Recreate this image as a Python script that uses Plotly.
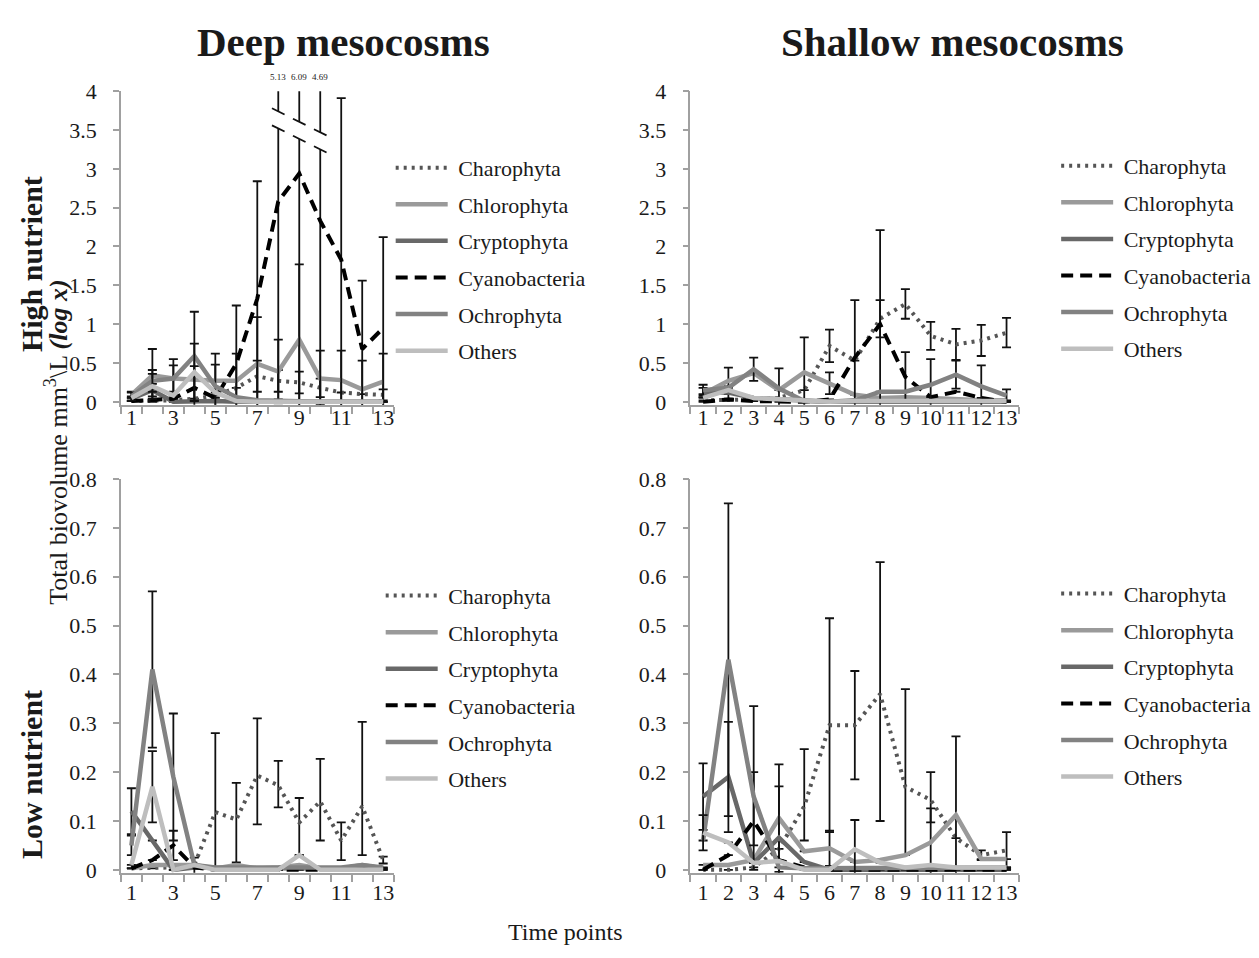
import plotly.graph_objects as go

W, H = 1259, 958
FONT = "Liberation Serif"
TXT = "#1a1a1a"
AXC = "#a0a0a0"

# ---------------- data ----------------
TIME = list(range(1, 14))
GROUPS = ["Charophyta", "Chlorophyta", "Cryptophyta", "Cyanobacteria", "Ochrophyta", "Others"]
ODD_TICKS = [1, 3, 5, 7, 9, 11, 13]
ALL_TICKS = TIME

# Deep mesocosms, high nutrient
deep_high = {
    "Charophyta":    [0.01, 0.01, 0.02, 0.04, 0.08, 0.18, 0.33, 0.27, 0.25, 0.18, 0.12, 0.10, 0.09],
    "Chlorophyta":   [0.09, 0.34, 0.30, 0.28, 0.27, 0.27, 0.49, 0.39, 0.80, 0.30, 0.28, 0.16, 0.26],
    "Cryptophyta":   [0.04, 0.15, 0.00, 0.01, 0.01, 0.00, 0.00, 0.00, 0.00, 0.00, 0.00, 0.00, 0.00],
    "Cyanobacteria": [0.01, 0.02, 0.04, 0.18, 0.05, 0.49, 1.33, 2.58, 2.94, 2.33, 1.83, 0.68, 0.95],
    "Ochrophyta":    [0.07, 0.27, 0.30, 0.59, 0.20, 0.06, 0.02, 0.01, 0.00, 0.00, 0.00, 0.00, 0.00],
    "Others":        [0.05, 0.20, 0.08, 0.38, 0.12, 0.01, 0.00, 0.00, 0.00, 0.00, 0.00, 0.00, 0.00],
}
deep_high_err = {
    "Charophyta":    [None, None, None, None, None, None, 0.20, 0.14, 0.14, 0.12, None, None, 0.07],
    "Chlorophyta":   [0.04, 0.34, 0.25, None, 0.35, 0.35, 0.60, 0.41, 0.97, 0.36, 0.38, 0.37, 0.36],
    "Cryptophyta":   [0.03, 0.08, None, None, None, None, None, None, None, None, None, None, None],
    "Cyanobacteria": [None, None, None, 0.28, None, 0.75, 1.51, 2.55, 3.15, 2.36, 2.08, 0.88, 1.17],
    "Ochrophyta":    [0.05, 0.14, 0.17, 0.57, 0.28, None, None, None, None, None, None, None, None],
    "Others":        [None, 0.16, None, 0.37, None, None, None, None, None, None, None, None, None],
}
deep_high_err_down = {}

# Shallow mesocosms, high nutrient
shallow_high = {
    "Charophyta":    [0.02, 0.02, 0.03, 0.05, 0.15, 0.72, 0.53, 1.07, 1.26, 0.85, 0.74, 0.79, 0.89],
    "Chlorophyta":   [0.10, 0.27, 0.37, 0.15, 0.38, 0.24, 0.09, 0.05, 0.06, 0.05, 0.03, 0.02, 0.02],
    "Cryptophyta":   [0.12, 0.12, 0.05, 0.03, 0.01, 0.00, 0.00, 0.00, 0.00, 0.00, 0.00, 0.00, 0.00],
    "Cyanobacteria": [0.00, 0.03, 0.01, 0.00, 0.00, 0.03, 0.57, 1.00, 0.32, 0.06, 0.13, 0.05, 0.00],
    "Ochrophyta":    [0.15, 0.18, 0.42, 0.17, 0.01, 0.00, 0.02, 0.13, 0.13, 0.22, 0.35, 0.20, 0.08],
    "Others":        [0.05, 0.15, 0.05, 0.03, 0.01, 0.00, 0.01, 0.01, 0.01, 0.01, 0.01, 0.01, 0.01],
}
shallow_high_err = {
    "Charophyta":    [None, None, None, None, None, 0.21, None, 0.24, 0.19, 0.18, 0.20, 0.20, 0.19],
    "Chlorophyta":   [None, 0.17, None, None, 0.45, 0.14, None, None, None, None, None, None, None],
    "Cryptophyta":   [0.06, 0.08, None, None, None, None, None, None, None, None, None, None, None],
    "Cyanobacteria": [None, None, None, None, None, None, 0.74, 1.21, 0.32, None, None, None, None],
    "Ochrophyta":    [0.07, None, 0.15, 0.26, None, None, None, None, None, 0.33, 0.18, 0.27, 0.08],
    "Others":        [None, None, None, None, None, None, None, None, None, None, None, None, None],
}
shallow_high_err_down = {}

# Deep mesocosms, low nutrient
deep_low = {
    "Charophyta":    [0.003, 0.003, 0.005, 0.010, 0.118, 0.103, 0.193, 0.173, 0.097, 0.140, 0.060, 0.130, 0.020],
    "Chlorophyta":   [0.003, 0.010, 0.010, 0.010, 0.003, 0.010, 0.003, 0.005, 0.010, 0.003, 0.003, 0.010, 0.003],
    "Cryptophyta":   [0.120, 0.060, 0.000, 0.005, 0.003, 0.003, 0.003, 0.003, 0.003, 0.003, 0.003, 0.003, 0.003],
    "Cyanobacteria": [0.003, 0.020, 0.050, 0.005, 0.000, 0.000, 0.000, 0.000, 0.000, 0.000, 0.000, 0.000, 0.000],
    "Ochrophyta":    [0.050, 0.410, 0.190, 0.010, 0.005, 0.005, 0.005, 0.005, 0.005, 0.005, 0.005, 0.010, 0.005],
    "Others":        [0.010, 0.170, 0.000, 0.010, 0.000, 0.000, 0.000, 0.000, 0.030, 0.000, 0.000, 0.000, 0.000],
}
deep_low_err = {
    "Charophyta":    [None, None, None, None, 0.162, 0.075, 0.117, 0.050, 0.050, 0.087, 0.037, 0.173, 0.007],
    "Chlorophyta":   [None] * 13,
    "Cryptophyta":   [0.047, None, None, None, None, None, None, None, None, None, None, None, None],
    "Cyanobacteria": [None, None, 0.030, 0.020, None, None, None, None, None, None, None, None, None],
    "Ochrophyta":    [0.020, 0.160, 0.130, None, None, None, None, None, None, None, None, None, None],
    "Others":        [None, 0.073, None, None, None, None, None, None, None, None, None, None, None],
}
deep_low_err_down = {
    "Charophyta":    [None, None, None, None, 0.118, 0.088, 0.100, 0.045, 0.067, 0.080, 0.040, 0.100, 0.007],
}

# Shallow mesocosms, low nutrient
shallow_low = {
    "Charophyta":    [0.000, 0.000, 0.005, 0.043, 0.130, 0.296, 0.296, 0.360, 0.170, 0.143, 0.065, 0.030, 0.040],
    "Chlorophyta":   [0.010, 0.010, 0.020, 0.106, 0.038, 0.044, 0.016, 0.020, 0.030, 0.056, 0.112, 0.022, 0.022],
    "Cryptophyta":   [0.150, 0.190, 0.014, 0.066, 0.016, 0.000, 0.000, 0.000, 0.000, 0.000, 0.000, 0.000, 0.000],
    "Cyanobacteria": [0.000, 0.030, 0.100, 0.020, 0.005, 0.000, 0.000, 0.000, 0.000, 0.000, 0.000, 0.000, 0.000],
    "Ochrophyta":    [0.060, 0.430, 0.150, 0.005, 0.003, 0.003, 0.003, 0.005, 0.005, 0.005, 0.005, 0.005, 0.005],
    "Others":        [0.076, 0.056, 0.014, 0.018, 0.000, 0.000, 0.042, 0.015, 0.005, 0.010, 0.005, 0.005, 0.005],
}
shallow_low_err = {
    "Charophyta":    [None, None, None, None, 0.117, 0.219, 0.111, 0.270, 0.200, 0.057, None, 0.010, 0.037],
    "Chlorophyta":   [None, None, None, 0.110, None, 0.036, None, None, None, 0.070, 0.161, None, None],
    "Cryptophyta":   [0.068, 0.113, None, 0.105, None, None, None, None, None, None, None, None, None],
    "Cyanobacteria": [None, None, 0.100, None, None, None, None, None, None, None, None, None, None],
    "Ochrophyta":    [None, 0.320, 0.185, None, None, None, None, None, None, None, None, None, None],
    "Others":        [0.036, None, None, None, None, None, 0.060, None, None, None, None, None, None],
}
shallow_low_err_down = {
    "Charophyta":    [None, None, None, None, 0.070, 0.219, 0.111, 0.260, 0.140, 0.046, None, 0.010, 0.037],
    "Ochrophyta":    [None, 0.320, 0.100, None, None, None, None, None, None, None, None, None, None],
}

# ---------------- styles ----------------
STYLE = {
    "Charophyta":    dict(color="#555555", width=4, dash="3px,5px"),
    "Chlorophyta":   dict(color="#9a9a9a", width=4.5, dash="solid"),
    "Cryptophyta":   dict(color="#686868", width=4.5, dash="solid"),
    "Cyanobacteria": dict(color="#000000", width=4, dash="12px,7px"),
    "Ochrophyta":    dict(color="#828282", width=4.5, dash="solid"),
    "Others":        dict(color="#bebebe", width=4.5, dash="solid"),
}

PANELS = [
    dict(key="", vals=deep_high, err=deep_high_err, errdn=deep_high_err_down, ymax=4.0, dtick=0.5,
         xt=ODD_TICKS, xpx=(121, 394), zero_px=399, top_px=81, leg=(391, 138), legend="legend",
         xstand=-8),
    dict(key="2", vals=shallow_high, err=shallow_high_err, errdn=shallow_high_err_down, ymax=4.0, dtick=0.5,
         xt=ALL_TICKS, xpx=(691, 1020), zero_px=399, top_px=81, leg=(1057, 136), legend="legend2",
         xstand=-8),
    dict(key="3", vals=deep_low, err=deep_low_err, errdn=deep_low_err_down, ymax=0.8, dtick=0.1,
         xt=ODD_TICKS, xpx=(121, 394), zero_px=878, top_px=478, leg=(381, 576), legend="legend3",
         xstand=-1),
    dict(key="4", vals=shallow_low, err=shallow_low_err, errdn=shallow_low_err_down, ymax=0.8, dtick=0.1,
         xt=ALL_TICKS, xpx=(691, 1020), zero_px=878, top_px=478, leg=(1057, 574), legend="legend4",
         xstand=-1),
]

fig = go.Figure()
layout = {}
annotations = []
shapes = []

for p in PANELS:
    k = p["key"]
    ppu = (p["zero_px"] - p["top_px"]) / p["ymax"]
    lo = -3.0 / ppu
    cap_top = p["ymax"] + 6.0 / ppu
    over = []
    for g in GROUPS:
        v = p["vals"][g]
        up_raw = p["err"].get(g, [None] * 13)
        dn_raw = p["errdn"].get(g, up_raw)
        up, dn = [], []
        for i, (val, e, d) in enumerate(zip(v, up_raw, dn_raw)):
            if e is None:
                up.append(None)
                dn.append(None)
                continue
            if val + e > p["ymax"]:
                over.append((TIME[i], val + e))
                up.append(cap_top - val)
            else:
                up.append(e)
            dn.append(d if d is not None else e)
        st = STYLE[g]
        fig.add_trace(go.Scatter(
            x=TIME, y=v, mode="lines", name="\u00a0" + g,
            line=dict(color=st["color"], width=st["width"], dash=st["dash"]),
            error_y=dict(type="data", array=up, arrayminus=dn, symmetric=False,
                         color="#111111", thickness=1.8, width=4.5),
            xaxis="x" + k, yaxis="y" + k, cliponaxis=False,
            legend=p["legend"], legendgroup=p["legend"] + g, showlegend=True,
            hoverinfo="skip",
        ))
    # broken error bars with their true values
    for j, (t, tot) in enumerate(over):
        annotations.append(dict(x=t, y=1, xref="x" + k, yref="y" + k + " domain", text=f"{tot:.2f}",
                                showarrow=False, xanchor="center", yanchor="bottom", yshift=7,
                                font=dict(family=FONT, size=9, color=TXT)))
        yc = 3.63 - 0.135 * j
        gap = 0.11
        shapes.append(dict(type="line", xref="x" + k, yref="y" + k, x0=t, x1=t, y0=yc - gap, y1=yc + gap,
                           line=dict(color="white", width=5)))
        for yy in (yc - gap, yc + gap):
            shapes.append(dict(type="line", xref="x" + k, yref="y" + k, x0=t - 0.3, x1=t + 0.3,
                               y0=yy + 0.04, y1=yy - 0.04, line=dict(color="#111111", width=1.8)))

    x0, x1 = p["xpx"]
    layout["xaxis" + k] = dict(
        domain=[x0 / W, x1 / W], range=[0.5, 13.5], anchor="y" + k,
        tickvals=p["xt"], ticktext=[str(t) for t in p["xt"]], ticks="",
        showline=True, linecolor=AXC, linewidth=1.5, showgrid=False, zeroline=False,
        tickfont=dict(family=FONT, size=22, color=TXT), ticklabelstandoff=p["xstand"],
        minor=dict(tick0=0.5, dtick=1, ticks="outside", ticklen=7, tickwidth=1.5, tickcolor=AXC,
                   showgrid=False),
    )
    layout["yaxis" + k] = dict(
        domain=[1 - (p["zero_px"] + 3) / H, 1 - p["top_px"] / H], range=[lo, p["ymax"]],
        anchor="x" + k, tick0=0, dtick=p["dtick"], ticks="outside", ticklen=6, tickwidth=1.5,
        tickcolor=AXC, showline=True, linecolor=AXC, linewidth=1.5, showgrid=False,
        zeroline=False, tickfont=dict(family=FONT, size=22, color=TXT), ticklabelstandoff=12,
    )
    lx, ly = p["leg"]
    layout[p["legend"]] = dict(
        x=lx / W, y=1 - ly / H, xanchor="left", yanchor="top", bgcolor="rgba(0,0,0,0)",
        font=dict(family=FONT, size=22, color=TXT), tracegroupgap=5, itemwidth=52,
    )

def paper_text(text, xpx, ypx, size, angle=0):
    return dict(text=text, x=xpx / W, y=1 - ypx / H, xref="paper", yref="paper",
                xanchor="center", yanchor="middle", showarrow=False, textangle=angle,
                font=dict(family=FONT, size=size, color=TXT))

annotations += [
    paper_text("<b>Deep mesocosms</b>", 344, 31, 41),
    paper_text("<b>Shallow mesocosms</b>", 953, 31, 41),
    paper_text("<b>High nutrient</b>", 31, 258, 30, -90),
    paper_text("<b>Low nutrient</b>", 31, 780, 30, -90),
    paper_text("Total biovolume mm<sup>3</sup>\\L <b><i>(log x)</i></b>", 57, 440, 26, -90),
    paper_text("Time points", 565, 942, 24),
]

fig.update_layout(
    width=W, height=H, margin=dict(l=0, r=0, t=0, b=0),
    paper_bgcolor="white", plot_bgcolor="white",
    font=dict(family=FONT, color=TXT),
    annotations=annotations, shapes=shapes, **layout,
)

fig.write_html("out.html")
